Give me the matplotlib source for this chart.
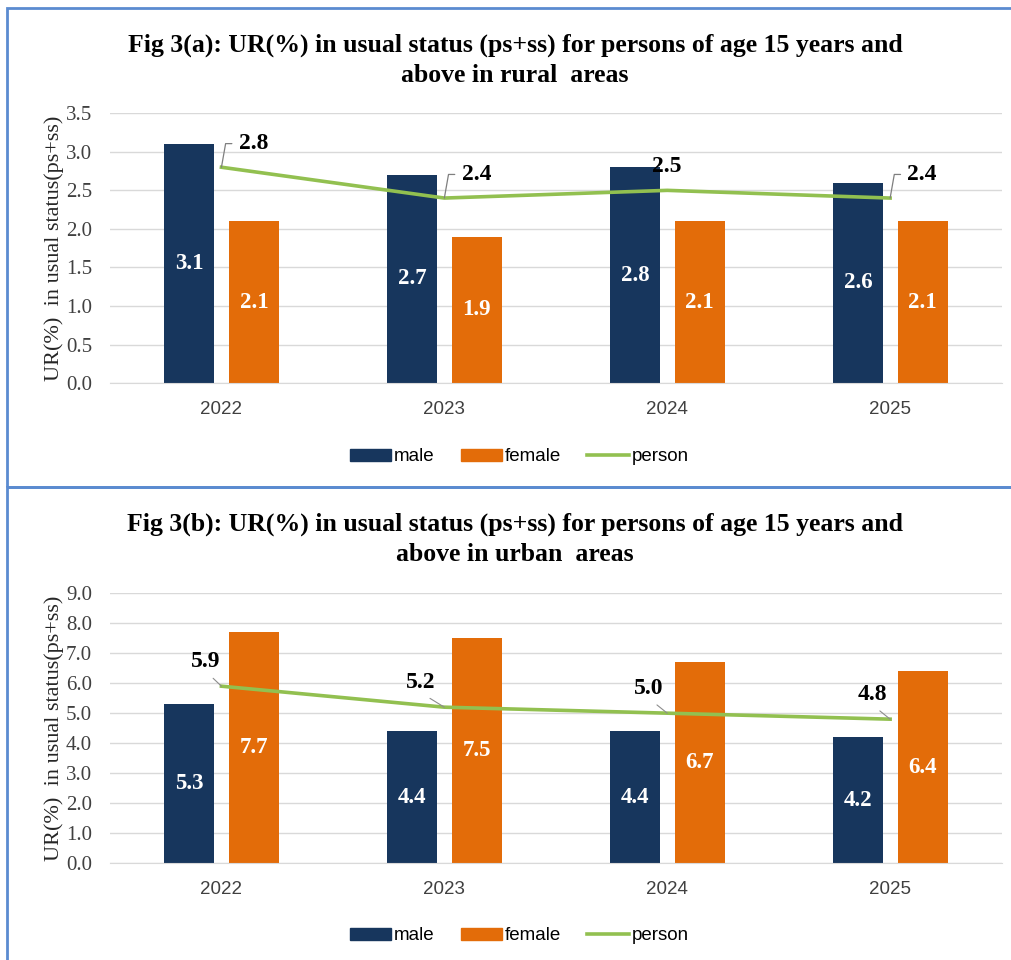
import numpy as np
import matplotlib.pyplot as plt
from matplotlib.patches import Rectangle
from matplotlib.lines import Line2D

years = ["2022", "2023", "2024", "2025"]

rural_male = [3.1, 2.7, 2.8, 2.6]
rural_female = [2.1, 1.9, 2.1, 2.1]
rural_person = [2.8, 2.4, 2.5, 2.4]

urban_male = [5.3, 4.4, 4.4, 4.2]
urban_female = [7.7, 7.5, 6.7, 6.4]
urban_person = [5.9, 5.2, 5.0, 4.8]

rural_title = "Fig 3(a): UR(%) in usual status (ps+ss) for persons of age 15 years and\nabove in rural  areas"
urban_title = "Fig 3(b): UR(%) in usual status (ps+ss) for persons of age 15 years and\nabove in urban  areas"
ylabel = "UR(%)  in usual status(ps+ss)"

NAVY = "#17365d"
ORANGE = "#e36c09"
GREEN = "#92c050"
SERIF = "Liberation Serif"
SANS = "Liberation Sans"

fig = plt.figure(figsize=(10.12, 9.6), dpi=100)

# panel frames
for y0, h in [(0.493, 0.499), (-0.01, 0.503)]:
    fig.patches.append(Rectangle((0.007, y0), 1.2, h, transform=fig.transFigure,
                                 fill=False, edgecolor="#5b8bd0", linewidth=2.0))


def panel(rect, male, female, person, ymax, step, title, title_y, legend_y,
          label_offsets):
    ax = fig.add_axes(rect)
    x = np.arange(len(years))
    w = 0.225
    ax.bar(x - 0.144, male, w, color=NAVY, zorder=2)
    ax.bar(x + 0.146, female, w, color=ORANGE, zorder=2)
    ax.plot(x, person, color=GREEN, linewidth=2.6, zorder=3)

    for i in range(len(years)):
        ax.text(x[i] - 0.144, male[i] / 2, f"{male[i]:.1f}", ha="center", va="center",
                color="white", fontsize=16.5, fontweight="bold", family=SERIF, zorder=4)
        ax.text(x[i] + 0.146, female[i] / 2, f"{female[i]:.1f}", ha="center", va="center",
                color="white", fontsize=16.5, fontweight="bold", family=SERIF, zorder=4)
        dx, dy, style = label_offsets[i]
        if style == "elbow":
            ax.annotate(f"{person[i]:.1f}", xy=(x[i], person[i]),
                        xytext=(dx, dy), textcoords="offset points",
                        ha="left", va="center", fontsize=17, fontweight="bold",
                        family=SERIF, zorder=5,
                        arrowprops=dict(arrowstyle="-", color="#7f7f7f", lw=0.9,
                                        relpos=(0, 0.5),
                                        connectionstyle="angle,angleA=0,angleB=80,rad=0",
                                        shrinkA=3, shrinkB=0))
        elif style == "slant":
            ax.annotate(f"{person[i]:.1f}", xy=(x[i], person[i]),
                        xytext=(dx, dy), textcoords="offset points",
                        ha="center", va="center", fontsize=17, fontweight="bold",
                        family=SERIF, zorder=5,
                        arrowprops=dict(arrowstyle="-", color="#8c8c8c", lw=0.8,
                                        relpos=(0.5, 0.0), shrinkA=4, shrinkB=0))
        else:
            ax.annotate(f"{person[i]:.1f}", xy=(x[i], person[i]),
                        xytext=(dx, dy), textcoords="offset points",
                        ha="center", va="center", fontsize=17, fontweight="bold",
                        family=SERIF, zorder=5)

    ax.set_xlim(-0.5, len(years) - 0.5)
    ax.set_ylim(0, ymax)
    ticks = np.arange(0, ymax + step / 2, step)
    ax.set_yticks(ticks)
    ax.set_yticklabels([f"{v:.1f}" for v in ticks], family=SERIF, fontsize=15,
                       color="#404040")
    ax.set_xticks(x)
    ax.set_xticklabels(years, family=SANS, fontsize=13.5, color="#404040")
    ax.tick_params(axis="y", length=0, pad=13)
    ax.tick_params(axis="x", length=0, pad=13)
    ax.grid(axis="y", color="#d9d9d9", linewidth=1.0, zorder=0)
    ax.set_axisbelow(True)
    for s in ["top", "right", "left"]:
        ax.spines[s].set_visible(False)
    ax.spines["bottom"].set_color("#d9d9d9")
    ax.set_ylabel(ylabel, family=SERIF, fontsize=16, color="#262626", labelpad=1)

    fig.text(0.509, title_y, title, ha="center", va="center", family=SERIF,
             fontsize=18.5, fontweight="bold", linespacing=1.4)

    handles = [Rectangle((0, 0), 1, 1, color=NAVY),
               Rectangle((0, 0), 1, 1, color=ORANGE),
               Line2D([0], [0], color=GREEN, linewidth=2.6)]
    fig.legend(handles, ["male", "female", "person"], loc="center",
               bbox_to_anchor=(0.513, legend_y), ncol=3, frameon=False,
               prop={"family": SANS, "size": 13.5}, handlelength=2.2,
               handleheight=0.6, handletextpad=0.15, columnspacing=1.4)
    return ax


panel([0.1087, 0.601, 0.881, 0.281], rural_male, rural_female, rural_person,
      3.5, 0.5, rural_title, 0.937, 0.524,
      [(12.5, 17, "elbow"), (12.5, 17, "elbow"), (0, 17, "none"), (12.5, 17, "elbow")])

panel([0.1087, 0.101, 0.881, 0.281], urban_male, urban_female, urban_person,
      9.0, 1.0, urban_title, 0.438, 0.025,
      [(-11, 18, "slant"), (-17, 18, "slant"), (-13, 18, "slant"), (-13, 18, "slant")])

fig.savefig("out.png", dpi=100)
